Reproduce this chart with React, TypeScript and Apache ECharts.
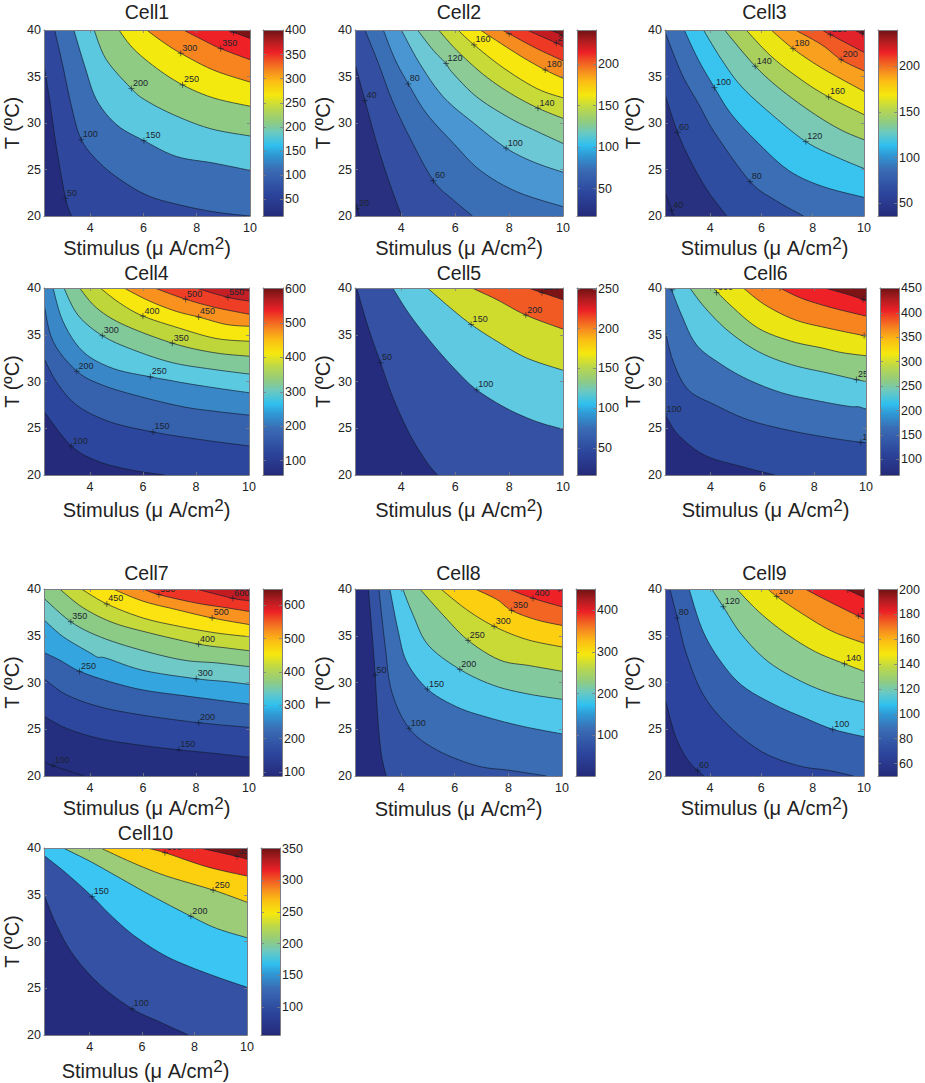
import { useEffect, useRef } from "react";
import * as echarts from "echarts";

type Pt = [number, number];

const X_MAX = 10;
const T_MIN = 20;
const T_MAX = 40;
const xTicks = [4, 6, 8, 10];
const tTicks = [20, 25, 30, 35, 40];

// Each contour runs from its upper-left end to its lower-right end, [stimulus, T]
const cell1XMin = 2.27;
const cell1Levels = [50, 100, 150, 200, 250, 300, 350, 400];
const cell1Contours: Pt[][] = [
    [[2.27, 36.2], [2.48, 32.5], [2.73, 27.5], [3.08, 21.9], [3.3, 20]],
    [[2.67, 40], [2.98, 36.1], [3.3, 31.8], [3.67, 28.2], [4.36, 25.7], [5.24, 23.7], [6.24, 22.1], [7.5, 21.1], [8.75, 20.4], [10, 20]],
    [[3.39, 40], [3.8, 36.1], [4.24, 32.5], [5, 29.8], [6.02, 28.1], [7.24, 26.4], [8.62, 25.7], [10, 24.9]],
    [[4.15, 40], [4.61, 36.8], [5.55, 33.7], [6.05, 32.5], [7.12, 30.9], [8.5, 29.4], [10, 28.6]],
    [[5.08, 40], [5.62, 38], [6.49, 35.9], [7.47, 34.1], [8.62, 32.7], [10, 31.8]],
    [[6.12, 40], [6.74, 38.7], [7.4, 37.5], [8.62, 35.7], [10, 34.4]],
    [[7.5, 40], [8.25, 38.9], [8.9, 38], [10, 36.8]],
    [[9.12, 40], [9.38, 39.75], [10, 39.1]],
];
const cell1Marks: Pt[] = [[3.08, 21.9], [3.67, 28.2], [6.02, 28.1], [5.55, 33.7], [7.47, 34.1], [7.4, 37.5], [8.9, 38], [9.38, 39.75]];
const cell1Clim: Pt = [15, 401];
const cell1Ticks = [50, 100, 150, 200, 250, 300, 350, 400];

const cell2XMin = 2.28;
const cell2Levels = [20, 40, 60, 80, 100, 120, 140, 160, 180, 200, 220, 240];
const cell2Contours: Pt[][] = [
    [[2.28, 21.7], [2.37, 20.8], [2.43, 20]],
    [[2.28, 36.4], [2.65, 32.4], [3.09, 27.8], [3.52, 23.9], [4.01, 20]],
    [[2.65, 40], [3.15, 36.4], [3.65, 32.5], [4.3, 28.5], [5.19, 23.8], [5.94, 21.7], [6.64, 20]],
    [[3.33, 40], [3.77, 36.8], [4.26, 34.2], [4.94, 31], [5.94, 27.8], [6.93, 24.9], [8.29, 22.6], [10, 21]],
    [[4, 40], [4.68, 36.4], [5.56, 32.8], [6.68, 30], [7.89, 27.3], [8.91, 25.8], [10, 24.7]],
    [[4.6, 40], [5.19, 37.8], [5.66, 36.4], [5.87, 35.5], [6.8, 32.8], [8.04, 30.5], [9.03, 29.1], [10, 27.8]],
    [[5.38, 40], [6.06, 37.8], [7.05, 35.2], [8.04, 33.2], [9.07, 31.6], [10, 30.5]],
    [[6.1, 40], [6.7, 38.4], [7.8, 35.9], [9.03, 33.7], [10, 32.7]],
    [[6.93, 40], [7.67, 38.6], [8.54, 37], [9.34, 35.7], [10, 34.8]],
    [[7.73, 40], [8, 39.6], [9.03, 38], [10, 36.7]],
    [[8.66, 40], [9.75, 38.6], [10, 38.2]],
    [[9.4, 40], [9.72, 39.8], [10, 39.35]],
];
const cell2Marks: Pt[] = [[2.37, 20.8], [2.65, 32.4], [5.19, 23.8], [4.26, 34.2], [7.89, 27.3], [5.66, 36.4], [9.07, 31.6], [6.7, 38.4], [9.34, 35.7], [8, 39.6], [9.75, 38.6], [9.72, 40]];
const cell2Clim: Pt = [17, 241];
const cell2Ticks = [50, 100, 150, 200];

const cell3XMin = 2.24;
const cell3Levels = [40, 60, 80, 100, 120, 140, 160, 180, 200, 220, 240];
const cell3Contours: Pt[][] = [
    [[2.24, 22.6], [2.5, 20.6], [2.59, 20]],
    [[2.24, 33.1], [2.73, 29], [3.28, 25.7], [3.93, 22.6], [4.65, 20]],
    [[2.24, 39.8], [2.89, 35.3], [3.54, 32.1], [4.19, 28.9], [5.56, 23.7], [6.54, 21.7], [7.64, 20]],
    [[2.99, 40], [3.54, 36.8], [4.17, 33.8], [4.84, 30.9], [5.89, 27.8], [7.06, 24.9], [8.36, 23.2], [10, 22]],
    [[3.74, 40], [4.45, 36.8], [5.23, 33.9], [6.41, 30.9], [7.73, 28], [8.88, 26.4], [10, 25.1]],
    [[4.56, 40], [5.76, 36.1], [6.8, 33.5], [8.1, 30.9], [9.14, 29.2], [10, 28.2]],
    [[5.4, 40], [6.41, 37.1], [7.58, 34.6], [8.62, 32.8], [10, 30.9]],
    [[6.38, 40], [7.23, 38], [8.36, 35.9], [10, 33.4]],
    [[7.32, 40], [8.36, 38.4], [9.11, 36.8], [10, 35.6]],
    [[8.36, 40], [8.69, 39.5], [10, 37.6]],
    [[9.6, 40], [9.94, 39.6], [10, 39.5]],
];
const cell3Marks: Pt[] = [[2.5, 20.6], [2.73, 29], [5.56, 23.7], [4.17, 33.8], [7.73, 28], [5.76, 36.1], [8.62, 32.8], [7.23, 38], [9.11, 36.8], [8.69, 39.5], [9.94, 39.6]];
const cell3Clim: Pt = [36, 240];
const cell3Ticks = [50, 100, 150, 200];

const cell4XMin = 2.27;
const cell4Levels = [100, 150, 200, 250, 300, 350, 400, 450, 500, 550, 600];
const cell4Contours: Pt[][] = [
    [[2.27, 26.8], [3.3, 23.1], [4.37, 21.4], [5.62, 20.5], [6.82, 20]],
    [[2.27, 32.5], [2.73, 30], [3.49, 27.5], [4.74, 25.7], [6.38, 24.6], [8.14, 23.8], [10, 23.1]],
    [[2.27, 38.3], [2.61, 34.3], [3.51, 31.1], [4.49, 29.6], [5.88, 28.4], [7.51, 27.3], [8.76, 26.8], [10, 26.4]],
    [[2.61, 40], [2.99, 36.4], [3.74, 33.2], [4.87, 31.4], [6.28, 30.5], [7.06, 30.1], [7.63, 29.8], [8.76, 29.3], [10, 28.8]],
    [[3.02, 40], [3.55, 37.1], [4.47, 34.9], [5.62, 33.4], [7.13, 32], [8.64, 31.3], [10, 30.8]],
    [[3.61, 40], [4.24, 37.9], [5.25, 36.1], [7.11, 34.1], [8.64, 33.1], [10, 32.7]],
    [[4.39, 40], [5.12, 38.4], [6, 37], [7.38, 35.7], [8.76, 34.6], [10, 34.3]],
    [[5.28, 40], [6.25, 38.6], [7.26, 37.5], [8.1, 36.9], [9.14, 36.1], [10, 35.9]],
    [[6.44, 40], [7.61, 38.8], [8.76, 37.9], [10, 37.2]],
    [[8, 40], [9.2, 39], [10, 38.6]],
    [[9.4, 40], [9.67, 39.9], [10, 39.7]],
];
const cell4Marks: Pt[] = [[3.3, 23.1], [6.38, 24.6], [3.51, 31.1], [6.28, 30.5], [4.47, 34.9], [7.11, 34.1], [6, 37], [8.1, 36.9], [7.61, 38.8], [9.2, 39], [9.67, 40]];
const cell4Clim: Pt = [58, 602];
const cell4Ticks = [100, 200, 300, 400, 500, 600];

const cell5XMin = 2.28;
const cell5Levels = [50, 100, 150, 200, 250];
const cell5Contours: Pt[][] = [
    [[2.34, 40], [2.78, 35.7], [3.23, 32], [3.7, 28.2], [4.32, 24.3], [4.94, 21.4], [5.34, 20]],
    [[3.68, 40], [4.32, 37.1], [5.19, 33.9], [6.06, 31.1], [6.8, 29.1], [7.92, 27.1], [9.03, 25.7], [10, 24.9]],
    [[4.97, 40], [5.81, 37.9], [6.59, 36.1], [7.55, 34.3], [8.66, 32.5], [10, 31.2]],
    [[6.62, 40], [7.55, 38.75], [8.62, 37.1], [10, 35.6]],
    [[8.72, 40], [9.22, 39.5], [10, 38.75]],
];
const cell5Marks: Pt[] = [[3.23, 32], [6.8, 29.1], [6.59, 36.1], [8.62, 37.1], [9.22, 39.5]];
const cell5Clim: Pt = [16, 251];
const cell5Ticks = [50, 100, 150, 200, 250];

const cell6XMin = 2.24;
const cell6Levels = [100, 150, 200, 250, 300, 350, 400, 450];
const cell6Contours: Pt[][] = [
    [[2.24, 26.5], [2.75, 24.3], [3.78, 22.1], [5.2, 20.9], [6.48, 20]],
    [[2.24, 35.5], [2.56, 32.1], [3.14, 29.1], [4.17, 27.5], [5.45, 25.9], [6.98, 24.8], [8.54, 24], [9.8, 23.5], [10, 23.5]],
    [[2.47, 40], [2.88, 37.1], [3.46, 33.9], [4.43, 31.8], [5.45, 30.2], [6.74, 28.8], [8.02, 28], [9.31, 27.35], [9.7, 27.3], [10, 27.05]],
    [[3.2, 40], [3.78, 37.9], [4.68, 35.4], [5.84, 33.2], [7.12, 31.8], [8.54, 30.9], [9.63, 30.2], [10, 30]],
    [[4.1, 40], [4.75, 38.2], [5.84, 35.7], [7.12, 34.3], [8.28, 33.6], [9.05, 33.1], [10, 32.75]],
    [[5.26, 40], [6.1, 38.2], [7.25, 36.6], [8.54, 35.7], [9.93, 34.9], [10, 34.9]],
    [[6.68, 40], [7.51, 38.9], [8.67, 37.9], [10, 37]],
    [[8.41, 40], [9.31, 39.3], [9.89, 38.75], [10, 38.6]],
];
const cell6Marks: Pt[] = [[2.24, 26.5], [9.8, 23.5], [2.52, 39.8], [9.63, 30.2], [4.23, 39.5], [9.93, 34.9], [6.68, 40], [9.89, 38.75]];
const cell6Clim: Pt = [68, 451];
const cell6Ticks = [100, 150, 200, 250, 300, 350, 400, 450];

const cell7XMin = 2.27;
const cell7Levels = [100, 150, 200, 250, 300, 350, 400, 450, 500, 550, 600];
const cell7Contours: Pt[][] = [
    [[2.27, 21.6], [2.61, 21.1], [3.8, 20]],
    [[2.27, 26.4], [3.11, 25.1], [4.37, 24], [5.88, 23.3], [7.35, 22.8], [8.76, 22.4], [10, 22]],
    [[2.27, 30.4], [3.11, 28.7], [4.37, 27.4], [6, 26.5], [8.1, 25.7], [10, 25.2]],
    [[2.27, 33.2], [2.86, 32.4], [3.61, 31.2], [4.74, 30.1], [6, 29.2], [7.51, 28.6], [9.14, 28], [10, 27.7]],
    [[2.27, 36.7], [2.99, 34.9], [3.99, 33.2], [4.3, 32.7], [4.62, 32.6], [6, 31.3], [8.01, 30.4], [9.14, 30.1], [10, 29.8]],
    [[2.27, 39], [3.28, 36.5], [4.37, 34.9], [5.88, 33.5], [7.51, 32.4], [8.76, 32.1], [10, 31.7]],
    [[2.86, 40], [3.74, 38], [4.87, 36.4], [6.25, 35.3], [8.1, 34.1], [9.14, 33.7], [10, 33.4]],
    [[3.68, 40], [4.64, 38.4], [6, 36.9], [7.38, 36], [8.76, 35.3], [10, 34.9]],
    [[4.87, 40], [6, 38.7], [7.26, 37.8], [8.61, 36.9], [10, 36.2]],
    [[6, 40], [6.6, 39.4], [8.01, 38.5], [9.14, 38], [10, 37.6]],
    [[8.01, 40], [9.39, 39], [10, 38.75]],
];
const cell7Marks: Pt[] = [[2.61, 21.1], [7.35, 22.8], [8.1, 25.7], [3.61, 31.2], [8.01, 30.4], [3.28, 36.5], [8.1, 34.1], [4.64, 38.4], [8.61, 36.9], [6.6, 39.4], [9.39, 39]];
const cell7Clim: Pt = [88, 649];
const cell7Ticks = [100, 200, 300, 400, 500, 600];

const cell8XMin = 2.28;
const cell8Levels = [50, 100, 150, 200, 250, 300, 350, 400, 450];
const cell8Contours: Pt[][] = [
    [[2.78, 40], [2.96, 33.7], [3.03, 30.8], [3.15, 25.4], [3.27, 22.2], [3.44, 20]],
    [[3.17, 40], [3.4, 34], [3.65, 29], [4.3, 25.1], [5.32, 22.8], [6.81, 21.1], [8.06, 20.6], [9.42, 20]],
    [[3.58, 40], [3.89, 35.5], [4.21, 32.2], [4.98, 29.3], [6.07, 27.4], [7.19, 26.3], [8.55, 25.3], [10, 24.5]],
    [[4.06, 40], [4.45, 37.2], [5.01, 34], [6.19, 31.4], [7.44, 29.7], [8.68, 28.8], [10, 28.2]],
    [[4.7, 40], [5.57, 37.2], [6.5, 34.5], [7.68, 32.4], [8.8, 31.8], [10, 31.2]],
    [[5.48, 40], [6.44, 37.8], [7.47, 36], [8.68, 34.6], [10, 33.8]],
    [[6.75, 40], [7.56, 38.9], [8.12, 37.7], [9.05, 36.7], [10, 36.1]],
    [[8, 40], [8.92, 39], [10, 38.1]],
    [[9.7, 40], [9.89, 39.9], [10, 39.8]],
];
const cell8Marks: Pt[] = [[3.03, 30.8], [4.3, 25.1], [4.98, 29.3], [6.19, 31.4], [6.5, 34.5], [7.47, 36], [8.12, 37.7], [8.92, 39], [9.89, 40]];
const cell8Clim: Pt = [3, 450];
const cell8Ticks = [100, 200, 300, 400];

const cell9XMin = 2.25;
const cell9Levels = [60, 80, 100, 120, 140, 160, 180, 200];
const cell9Contours: Pt[][] = [
    [[2.25, 28.3], [2.64, 24.4], [3.09, 21.9], [3.52, 20.6], [3.77, 20]],
    [[2.44, 40], [2.73, 36.9], [3.09, 33], [3.74, 28.7], [4.72, 25.4], [6.02, 22.6], [7.44, 21.1], [8.61, 20.6], [9.59, 20]],
    [[3.19, 40], [3.68, 35.8], [4.33, 32.6], [5.24, 29.7], [6.54, 27.6], [7.7, 26.2], [8.78, 25], [10, 24.2]],
    [[4.07, 40], [4.52, 38.1], [5.24, 35.1], [6.28, 32.2], [7.57, 30.1], [8.74, 28.8], [10, 27.9]],
    [[5.04, 40], [5.89, 37.6], [6.93, 35.3], [8.1, 33.3], [9.24, 32], [10, 31.2]],
    [[6.25, 40], [6.6, 39.2], [7.57, 37.4], [8.74, 35.5], [10, 34.2]],
    [[7.7, 40], [8.61, 38.7], [9.78, 37.1], [10, 36.8]],
    [[9.26, 40], [9.37, 39.9], [10, 39.1]],
];
const cell9Marks: Pt[] = [[3.52, 20.6], [2.73, 36.9], [8.78, 25], [4.52, 38.1], [9.24, 32], [6.6, 39.2], [9.78, 37.1], [9.37, 39.9]];
const cell9Clim: Pt = [50, 200.5];
const cell9Ticks = [60, 80, 100, 120, 140, 160, 180, 200];

const cell10XMin = 2.26;
const cell10Levels = [100, 150, 200, 250, 300, 350];
const cell10Contours: Pt[][] = [
    [[2.26, 35], [2.73, 31.8], [3.37, 28.6], [4.38, 25.4], [5.62, 22.8], [6.67, 21.4], [7.76, 20]],
    [[2.26, 39.2], [3.11, 37.3], [4.1, 34.8], [4.77, 32.9], [5.66, 30.7], [6.8, 28.6], [7.82, 27.3], [8.96, 26.1], [10, 25.1]],
    [[2.99, 40], [4, 38.6], [5.02, 37], [6.29, 35], [7.86, 32.7], [8.84, 31.4], [10, 30.4]],
    [[4.42, 40], [5.66, 38.4], [6.93, 37], [8.71, 35.5], [10, 34.2]],
    [[6.17, 40], [6.87, 39.5], [8.46, 38], [10, 37]],
    [[8.2, 40], [9.62, 39.1], [10, 38.8]],
];
const cell10Marks: Pt[] = [[5.62, 22.8], [4.1, 34.8], [7.86, 32.7], [8.71, 35.5], [6.87, 39.5], [9.62, 39.1]];
const cell10Clim: Pt = [56, 351];
const cell10Ticks = [100, 150, 200, 250, 300, 350];

// band colours, lowest band first
const NAVY = "#262c7d";
const DARK_RED = "#7c1416";
const cell1Fills = [NAVY, "#2f479d", "#3b6db4", "#5cc8e0", "#8fcb82", "#f4e90e", "#f7841f", "#ee2226", DARK_RED];
const cell2Fills = ["#252a7a", "#28307f", "#344fa2", "#3b6fb5", "#4a96d2", "#6cc8d4", "#8ccb96", "#c8da38", "#f7e70e", "#f68c20", "#ee3a25", "#c21c22", DARK_RED];
const cell3Fills = ["#252a7a", "#28317f", "#2f4da0", "#3b6eb4", "#39c4f0", "#79c9b4", "#a9d05c", "#ece514", "#f9a01e", "#f15a24", "#e2242a", DARK_RED];
const cell4Fills = ["#252a7a", "#2d469d", "#3661ad", "#3a87c8", "#5bcae0", "#82c99a", "#bfd63a", "#f7e70e", "#f9911e", "#ee3e25", "#c41f24", "#9a1a1e"];
const cell5Fills = [NAVY, "#3551a4", "#5ec9e0", "#cfdc2e", "#f25a23", DARK_RED];
const cell6Fills = [NAVY, "#2e4da1", "#3b6eb4", "#5cc9e2", "#8fcb82", "#ece514", "#f7841f", "#ee2226", DARK_RED];
const cell7Fills = ["#252a7a", "#252f80", "#2c479d", "#3560ac", "#35a5e0", "#6fc9c6", "#8ccb85", "#c5d93a", "#fbe311", "#f9921e", "#ee3525", "#c21c22"];
const cell8Fills = [NAVY, "#3352a3", "#3a6db4", "#4fc8ec", "#82c99e", "#c9da36", "#fcd010", "#f26522", "#ee2226", "#c21c22"];
const cell9Fills = [NAVY, "#2c449d", "#3560ad", "#50c8ec", "#8ccb92", "#ece514", "#f7901f", "#ee2226", DARK_RED];
const cell10Fills = [NAVY, "#3551a3", "#3ac5f2", "#9ccc77", "#fdd00f", "#ee2a25", DARK_RED];

const cells = [
    { name: "Cell1", xMin: cell1XMin, levels: cell1Levels, contours: cell1Contours, marks: cell1Marks, clim: cell1Clim, ticks: cell1Ticks, fills: cell1Fills },
    { name: "Cell2", xMin: cell2XMin, levels: cell2Levels, contours: cell2Contours, marks: cell2Marks, clim: cell2Clim, ticks: cell2Ticks, fills: cell2Fills },
    { name: "Cell3", xMin: cell3XMin, levels: cell3Levels, contours: cell3Contours, marks: cell3Marks, clim: cell3Clim, ticks: cell3Ticks, fills: cell3Fills },
    { name: "Cell4", xMin: cell4XMin, levels: cell4Levels, contours: cell4Contours, marks: cell4Marks, clim: cell4Clim, ticks: cell4Ticks, fills: cell4Fills },
    { name: "Cell5", xMin: cell5XMin, levels: cell5Levels, contours: cell5Contours, marks: cell5Marks, clim: cell5Clim, ticks: cell5Ticks, fills: cell5Fills },
    { name: "Cell6", xMin: cell6XMin, levels: cell6Levels, contours: cell6Contours, marks: cell6Marks, clim: cell6Clim, ticks: cell6Ticks, fills: cell6Fills },
    { name: "Cell7", xMin: cell7XMin, levels: cell7Levels, contours: cell7Contours, marks: cell7Marks, clim: cell7Clim, ticks: cell7Ticks, fills: cell7Fills },
    { name: "Cell8", xMin: cell8XMin, levels: cell8Levels, contours: cell8Contours, marks: cell8Marks, clim: cell8Clim, ticks: cell8Ticks, fills: cell8Fills },
    { name: "Cell9", xMin: cell9XMin, levels: cell9Levels, contours: cell9Contours, marks: cell9Marks, clim: cell9Clim, ticks: cell9Ticks, fills: cell9Fills },
    { name: "Cell10", xMin: cell10XMin, levels: cell10Levels, contours: cell10Contours, marks: cell10Marks, clim: cell10Clim, ticks: cell10Ticks, fills: cell10Fills },
];

// left, right, top, bottom of the plot, left and right of the colour bar, title centre y, x label gap
const layout = [
    [44, 250, 30, 216, 263, 283, 11, 16],
    [355, 563, 30, 216, 577, 596, 11, 16],
    [665, 864, 30, 216, 878, 897, 11, 16],
    [44, 249, 288, 475, 263, 283, 272, 22],
    [355, 563, 288, 475, 577, 596, 272, 22],
    [665, 866, 288, 475, 880, 899, 272, 22],
    [44, 249, 589, 776, 263, 282, 572, 14],
    [355, 562, 589, 776, 576, 595, 572, 20],
    [665, 864, 589, 776, 878, 897, 572, 19],
    [44, 247, 848, 1035, 261, 280, 832, 23],
];

const FONT = "Liberation Sans";
const TEXT = "#222222";
const FRAME = "#7d7d85";
const LINE = "rgba(18,28,48,0.85)";

// colour bar stops
const JET: [number, string][] = [
    [0, "#252a7a"],
    [0.12, "#2c459c"],
    [0.25, "#3a6cb4"],
    [0.33, "#2f9ad6"],
    [0.38, "#30c0ef"],
    [0.45, "#6cc9c0"],
    [0.5, "#8dcb85"],
    [0.58, "#bcd84a"],
    [0.65, "#f5e80d"],
    [0.72, "#fbbf14"],
    [0.78, "#f68a20"],
    [0.84, "#f04e23"],
    [0.88, "#ec2026"],
    [0.94, "#b01c20"],
    [1, "#6e1212"],
];

// same job as a line series' smooth: a curve through the read points, in pixels
function smoothPixels(p: number[][]) {
    const out: number[][] = [];
    for (let i = 0; i < p.length - 1; i++) {
        const a = p[Math.max(i - 1, 0)];
        const b = p[i];
        const c = p[i + 1];
        const d = p[Math.min(i + 2, p.length - 1)];
        for (let s = 0; s < 6; s++) {
            const t = s / 6;
            const at = (k: number) =>
                0.5 * (2 * b[k] + (c[k] - a[k]) * t + (2 * a[k] - 5 * b[k] + 4 * c[k] - d[k]) * t * t + (3 * b[k] - a[k] - 3 * c[k] + d[k]) * t * t * t);
            out.push([at(0), at(1)]);
        }
    }
    out.push(p[p.length - 1]);
    return out;
}

function buildOption() {
    const grid: any[] = [];
    const xAxis: any[] = [];
    const yAxis: any[] = [];
    const series: any[] = [];
    const title: any[] = [];

    const tick = { show: true, inside: true, length: 3, lineStyle: { color: FRAME, width: 0.8 } };
    const frame = { show: true, onZero: false, lineStyle: { color: FRAME, width: 1 } };
    const label = { color: TEXT, fontSize: 12.5, fontFamily: FONT };

    cells.forEach((cell, c) => {
        const [left, right, top, bottom, barLeft, barRight, titleY, xGap] = layout[c];

        title.push({
            text: cell.name,
            left: (left + right) / 2,
            top: titleY - 9,
            textAlign: "center",
            padding: 0,
            textStyle: { color: TEXT, fontSize: 19.5, fontWeight: "normal", fontFamily: FONT },
        });

        const plotGrid = grid.length;
        grid.push({ left, top, width: right - left, height: bottom - top, containLabel: false });
        const barGrid = grid.length;
        grid.push({ left: barLeft, top, width: barRight - barLeft, height: bottom - top, containLabel: false });

        const plotX = xAxis.length;
        xAxis.push({
            gridIndex: plotGrid,
            type: "value",
            min: cell.xMin,
            max: X_MAX,
            position: "bottom",
            z: 5,
            axisLine: frame,
            splitLine: { show: false },
            axisTick: { ...tick, customValues: xTicks },
            axisLabel: { ...label, margin: 5, customValues: xTicks },
            name: "{t|Stimulus (μ A/cm}{s|2}{t|)}",
            nameLocation: "middle",
            nameGap: xGap,
            nameTextStyle: {
                rich: {
                    t: { fontSize: 20, color: TEXT, fontFamily: FONT },
                    s: { fontSize: 17, color: TEXT, fontFamily: FONT, padding: [0, 0, 9, 0] },
                },
            },
        });
        xAxis.push({
            gridIndex: plotGrid,
            type: "value",
            min: cell.xMin,
            max: X_MAX,
            position: "top",
            z: 5,
            axisLine: frame,
            splitLine: { show: false },
            axisTick: { ...tick, customValues: xTicks },
            axisLabel: { show: false },
        });

        const plotY = yAxis.length;
        yAxis.push({
            gridIndex: plotGrid,
            type: "value",
            min: T_MIN,
            max: T_MAX,
            position: "left",
            z: 5,
            axisLine: frame,
            splitLine: { show: false },
            axisTick: { ...tick, customValues: tTicks },
            axisLabel: { ...label, margin: 3, customValues: tTicks },
            name: "T (ºC)",
            nameLocation: "middle",
            nameGap: 22,
            nameTextStyle: { color: TEXT, fontSize: 20, fontFamily: FONT },
        });
        yAxis.push({
            gridIndex: plotGrid,
            type: "value",
            min: T_MIN,
            max: T_MAX,
            position: "right",
            z: 5,
            axisLine: frame,
            splitLine: { show: false },
            axisTick: { ...tick, customValues: tTicks },
            axisLabel: { show: false },
        });

        const barX = xAxis.length;
        xAxis.push({ gridIndex: barGrid, type: "value", min: 0, max: 1, show: false });
        xAxis.push({ gridIndex: barGrid, type: "value", min: 0, max: 1, position: "top", show: true, z: 5, axisLine: frame, axisTick: { show: false }, axisLabel: { show: false }, splitLine: { show: false } });
        xAxis.push({ gridIndex: barGrid, type: "value", min: 0, max: 1, position: "bottom", show: true, z: 5, axisLine: frame, axisTick: { show: false }, axisLabel: { show: false }, splitLine: { show: false } });

        const barY = yAxis.length;
        yAxis.push({
            gridIndex: barGrid,
            type: "value",
            min: cell.clim[0],
            max: cell.clim[1],
            position: "right",
            z: 5,
            axisLine: frame,
            splitLine: { show: false },
            axisTick: { ...tick, customValues: cell.ticks },
            axisLabel: { ...label, margin: 2, customValues: cell.ticks },
        });
        yAxis.push({
            gridIndex: barGrid,
            type: "value",
            min: cell.clim[0],
            max: cell.clim[1],
            position: "left",
            z: 5,
            axisLine: frame,
            splitLine: { show: false },
            axisTick: { ...tick, customValues: cell.ticks },
            axisLabel: { show: false },
        });

        // bands: first item paints the lowest band over the whole box, the rest stack upward
        series.push({
            type: "custom",
            coordinateSystem: "cartesian2d",
            xAxisIndex: plotX,
            yAxisIndex: plotY,
            clip: true,
            silent: true,
            z: 2,
            data: cell.fills.map((_, i) => [i]),
            renderItem: (params: any, api: any) => {
                const i = params.dataIndex;
                const fill = cell.fills[i];
                if (i === 0) {
                    const [x0, y0] = api.coord([cell.xMin, T_MAX]);
                    const [x1, y1] = api.coord([X_MAX, T_MIN]);
                    return { type: "rect", shape: { x: x0, y: y0, width: x1 - x0, height: y1 - y0 }, style: { fill } };
                }
                const line = cell.contours[i - 1];
                const first = line[0];
                const last = line[line.length - 1];
                const curve = smoothPixels(line.map((p) => api.coord(p)));
                const closing: Pt[] = [];
                if (last[1] === T_MIN) closing.push([X_MAX, T_MIN]);
                closing.push([X_MAX, T_MAX]);
                if (first[1] < T_MAX) closing.push([first[0], T_MAX]);
                return {
                    type: "group",
                    children: [
                        { type: "polygon", shape: { points: [...curve, ...closing.map((p) => api.coord(p))] }, style: { fill } },
                        { type: "polyline", shape: { points: curve }, style: { fill: "none", stroke: LINE, lineWidth: 0.8 } },
                    ],
                };
            },
        });

        // contour labels with their + marks, cut off at the box like the originals
        series.push({
            type: "custom",
            coordinateSystem: "cartesian2d",
            xAxisIndex: plotX,
            yAxisIndex: plotY,
            clip: true,
            silent: true,
            z: 3,
            data: cell.marks.map((m, i) => [m[0], m[1], cell.levels[i]]),
            renderItem: (_: any, api: any) => {
                const [x, y] = api.coord([api.value(0), api.value(1)]);
                const stroke = { stroke: LINE, lineWidth: 0.7 };
                const children: any[] = [
                    { type: "line", shape: { x1: x - 3, y1: y, x2: x + 3, y2: y }, style: stroke },
                    { type: "line", shape: { x1: x, y1: y - 3, x2: x, y2: y + 3 }, style: stroke },
                ];
                // a + on the top edge has its label wholly outside the box, so nothing shows
                if (api.value(1) < T_MAX) {
                    children.push({
                        type: "text",
                        x: x + 1.5,
                        y: y - 5.5,
                        style: { text: String(api.value(2)), fill: "#1c2430", fontSize: 9, fontFamily: FONT, textAlign: "left", textVerticalAlign: "middle" },
                    });
                }
                return { type: "group", children };
            },
        });

        series.push({
            type: "custom",
            coordinateSystem: "cartesian2d",
            xAxisIndex: barX,
            yAxisIndex: barY,
            silent: true,
            z: 2,
            data: [[0, cell.clim[0], 1, cell.clim[1]]],
            renderItem: (_: any, api: any) => {
                const [x0, y0] = api.coord([api.value(0), api.value(3)]);
                const [x1, y1] = api.coord([api.value(2), api.value(1)]);
                return {
                    type: "rect",
                    shape: { x: x0, y: y0, width: x1 - x0, height: y1 - y0 },
                    style: { fill: new echarts.graphic.LinearGradient(0, 1, 0, 0, JET.map(([offset, color]) => ({ offset, color }))) },
                };
            },
        });
    });

    return {
        animation: false,
        backgroundColor: "#ffffff",
        textStyle: { fontFamily: FONT },
        title,
        grid,
        xAxis,
        yAxis,
        series,
    };
}

export default function App() {
    const chartRef = useRef<HTMLDivElement | null>(null);

    useEffect(() => {
        if (!chartRef.current) return;
        const chart = echarts.init(chartRef.current, undefined, { renderer: "svg" });
        chart.setOption(buildOption() as any);
        return () => chart.dispose();
    }, []);

    return <div ref={chartRef} style={{ position: "fixed", left: 0, top: 0, width: 925, height: 1083 }} />;
}
